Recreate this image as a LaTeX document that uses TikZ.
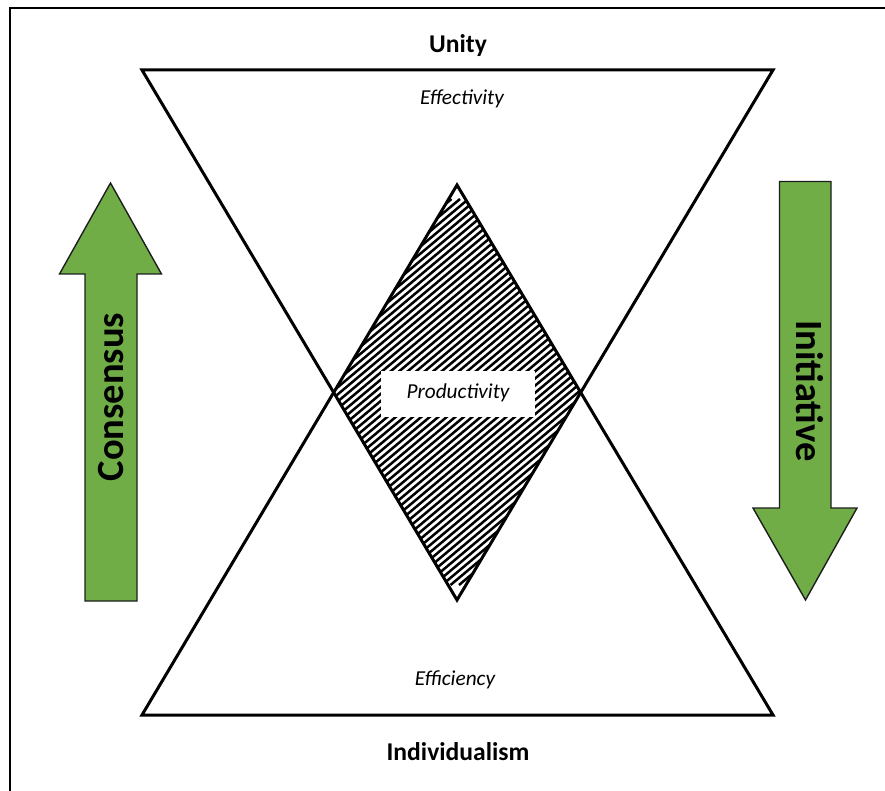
\documentclass[tikz,border=0pt]{standalone}
\usepackage{fontspec}
\setmainfont{Carlito}
\usetikzlibrary{calc}
\definecolor{arrowgreen}{RGB}{112,173,71}
\definecolor{edgegray}{RGB}{30,30,30}
\begin{document}
\begin{tikzpicture}[x=1pt,y=-1pt,
  tri/.style={line width=3pt,line join=miter},
  bigarrow/.style={fill=arrowgreen,draw=edgegray,line width=1.4pt,line join=miter},
  boldlabel/.style={font=\fontsize{25.6}{30}\selectfont\bfseries,inner sep=0pt},
  itlabel/.style={font=\fontsize{21.3}{25}\selectfont\itshape,inner sep=0pt},
  arrowlabel/.style={font=\fontsize{38.5}{44}\selectfont\bfseries,inner sep=0pt},
  hatch/.style={line width=2.5pt}]
\useasboundingbox (0,0) rectangle (885,791);
\clip (0,0) rectangle (885,791);
% frame
\draw[line width=2pt] (9.5,8.5) rectangle (905,810);
% key points
\coordinate (TL) at (142,70);
\coordinate (TR) at (773,70);
\coordinate (BL) at (142,715);
\coordinate (BR) at (773,715);
\coordinate (DT) at (457,185);
\coordinate (DB) at (457,600);
\coordinate (DL) at (333,392);
\coordinate (DR) at (581,392);
% hatching of the diamond
\begin{scope}
  \clip (DT) -- (DR) -- (DB) -- (DL) -- cycle;
  \foreach \x in {60,68.5,...,860}{
    \draw[hatch] (\x-230,392+193) -- (\x+230,392-193);
  }
\end{scope}
% triangles
\draw[tri] (TL) -- (TR) -- (DB) -- cycle;
\draw[tri] (BL) -- (BR) -- (DT) -- cycle;
% productivity box
\fill[white] (381,371) rectangle (535,417);
\node[itlabel] (prod) at (458,393) {Productivity};
% labels
\node[boldlabel] (unity) at (458,46) {Unity};
\node[itlabel] (eff) at (462,99) {Effectivity};
\node[itlabel] (effi) at (455,680) {Efficiency};
\node[boldlabel] (indiv) at (458,752) {Individualism};
% arrows
\draw[bigarrow] (110.5,183) -- (161.5,274) -- (137,274) -- (137,601) -- (85,601) -- (85,274) -- (59.5,274) -- cycle;
\draw[bigarrow] (805.5,600) -- (857,508) -- (831,508) -- (831,181.5) -- (779.5,181.5) -- (779.5,508) -- (753,508) -- cycle;
\node[arrowlabel,rotate=90] (cons) at (111,397) {Consensus};
\node[arrowlabel,rotate=-90] (init) at (810,391) {Initiative};
\end{tikzpicture}
\end{document}
